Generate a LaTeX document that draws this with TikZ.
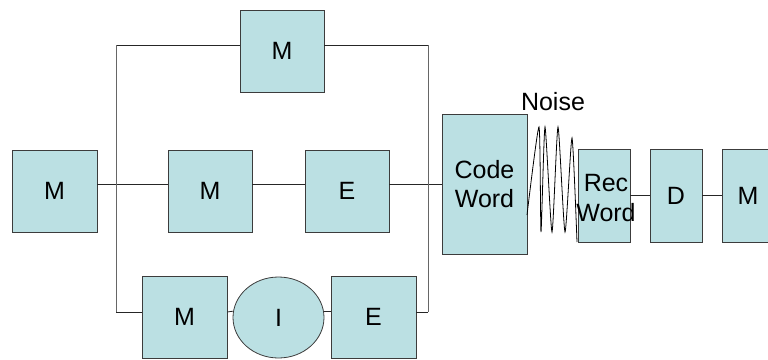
\documentclass[tikz,border=0pt]{standalone}
\usepackage{fontspec}
\setmainfont{Liberation Sans}
\usetikzlibrary{shapes.geometric}
\definecolor{boxfill}{RGB}{187,224,227}
\definecolor{boxline}{RGB}{60,60,60}
\begin{document}
\begin{tikzpicture}[x=1pt,y=-1pt,
  blk/.style={draw=boxline,fill=boxfill,line width=0.8pt,inner sep=0pt,
    minimum width=85pt,minimum height=82pt,font=\fontsize{25}{29}\selectfont,align=center},
  narrow/.style={blk,minimum width=52pt,minimum height=93pt},
  oval/.style={blk,ellipse,minimum width=91pt,minimum height=81pt},
  txt/.style={font=\fontsize{25}{30}\selectfont,align=center,inner sep=0pt},
  wire/.style={line width=0.8pt,draw=black!85},
  vwire/.style={line width=1pt,draw=black!60}]
\useasboundingbox (0,0) rectangle (768,359);
\clip (0,0) rectangle (768,359);
% boxes
\node[blk] (M0) at (54.5,191) {M};
\node[blk,minimum width=84pt] (Mtop) at (282,51) {M};
\node[blk,minimum width=84pt] (M1) at (210,191) {M};
\node[blk,minimum width=84pt] (E1) at (347,191) {E};
\node[blk] (M2) at (184.5,317) {M};
\node[oval] (I) at (278.5,317.5) {I};
\node[blk] (E2) at (373.5,317) {E};
\node[blk,minimum height=140pt] (CW) at (484.5,184) {Code\\Word};
\node[narrow] (RW) at (604,195.5) {};
\node[txt] (RWt) at (606,198) {Rec\\Word};
\node[narrow] (D) at (676,195.5) {D};
\node[narrow] (M3) at (748,195.5) {M};
\node[txt] (noise) at (553,102) {Noise};
% junction coordinates
\coordinate (jl) at (116,184);
\coordinate (jr) at (428,184);
\coordinate (tl) at (116,45);
\coordinate (tr) at (428,45);
\coordinate (bl) at (116,312);
\coordinate (br) at (428,312);
% connectors
\draw[wire] (M0.east |- jl) -- (M1.west |- jl);
\draw[wire] (M1.east |- jl) -- (E1.west |- jl);
\draw[wire] (E1.east |- jl) -- (CW.west |- jl);
\draw[wire] (Mtop.west |- tl) -- (tl);
\draw[wire] (Mtop.east |- tr) -- (tr);
\draw[wire] (bl) -- (M2.west |- bl);
\draw[wire] (br) -- (E2.east |- br);
\draw[vwire] (tl) -- (bl);
\draw[vwire] (tr) -- (br);
\draw[wire] (M2.east |- bl) -- (I.172);
\draw[wire] (I.8) -- (E2.west |- I.8);
\draw[wire] (RW.east) -- (D.west);
\draw[wire] (D.east) -- (M3.west);
% noise wave
\draw[line width=0.8pt] plot[smooth,tension=0.35] coordinates
  {(527,215) (539,127) (541,232) (545,127) (552,232) (558,127) (565,232) (572,138) (577,242)};
\end{tikzpicture}
\end{document}
